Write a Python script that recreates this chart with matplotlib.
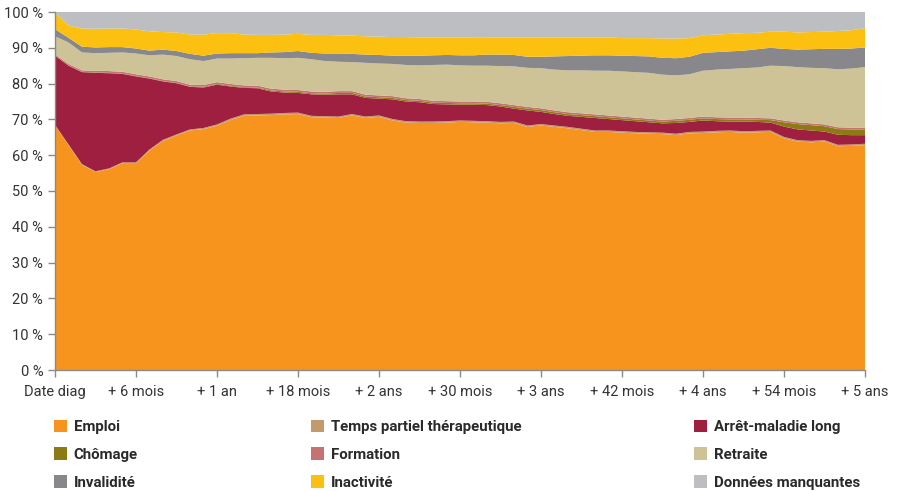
import matplotlib

matplotlib.use('Agg')
import matplotlib.pyplot as plt
from matplotlib.ticker import FuncFormatter

plt.rcParams['font.family'] = ['Roboto', 'DejaVu Sans']

months = list(range(61))
tick_months = [0, 6, 12, 18, 24, 30, 36, 42, 48, 54, 60]
tick_labels = ['Date diag', '+ 6 mois', '+ 1 an', '+ 18 mois', '+ 2 ans', '+ 30 mois',
               '+ 3 ans', '+ 42 mois', '+ 4 ans', '+ 54 mois', '+ 5 ans']

emploi = [68.5, 62.8, 57.3, 55.3, 56.1, 57.8, 57.8, 61.3, 64.0, 65.5, 66.9,
          67.3, 68.2, 69.8, 71.0, 71.1, 71.2, 71.4, 71.5, 70.6, 70.5,
          70.4, 71.1, 70.4, 70.7, 69.7, 69.1, 69.0, 69.0, 69.1, 69.3,
          69.2, 69.1, 68.9, 69.0, 67.9, 68.3, 67.9, 67.5, 67.0, 66.5,
          66.5, 66.3, 66.1, 66.0, 65.9, 65.6, 66.1, 66.2, 66.4, 66.5,
          66.3, 66.4, 66.5, 64.7, 63.8, 63.6, 63.8, 62.5, 62.6, 62.8]
temps_partiel = [0.0, 0.2, 0.2, 0.2, 0.2, 0.2, 0.2, 0.3, 0.3, 0.3, 0.3,
                 0.3, 0.4, 0.4, 0.4, 0.4, 0.4, 0.4, 0.4, 0.4, 0.4,
                 0.4, 0.4, 0.4, 0.4, 0.4, 0.4, 0.4, 0.4, 0.4, 0.4,
                 0.4, 0.4, 0.4, 0.4, 0.4, 0.4, 0.4, 0.4, 0.4, 0.4,
                 0.4, 0.4, 0.4, 0.4, 0.4, 0.4, 0.4, 0.4, 0.4, 0.4,
                 0.4, 0.4, 0.4, 0.4, 0.4, 0.4, 0.4, 0.4, 0.4, 0.4]
arret_maladie = [19.3, 22.0, 25.7, 27.5, 26.6, 24.7, 24.0, 19.8, 16.3, 14.3, 11.9,
                 11.3, 11.1, 9.0, 7.4, 7.2, 6.2, 5.7, 5.5, 6.0, 6.0,
                 6.2, 5.5, 5.2, 4.7, 5.5, 5.5, 5.4, 4.9, 4.7, 4.4,
                 4.5, 4.5, 4.3, 3.6, 4.2, 3.4, 3.2, 3.1, 3.3, 3.5,
                 3.2, 3.1, 3.0, 2.8, 2.6, 3.0, 2.8, 3.1, 2.7, 2.5,
                 2.7, 2.5, 2.2, 2.9, 3.0, 2.9, 2.4, 2.8, 2.6, 2.4]
chomage = [0.1, 0.1, 0.1, 0.1, 0.1, 0.1, 0.1, 0.1, 0.1, 0.1, 0.1,
           0.2, 0.2, 0.2, 0.2, 0.2, 0.3, 0.3, 0.3, 0.3, 0.3,
           0.4, 0.4, 0.4, 0.4, 0.4, 0.4, 0.4, 0.4, 0.4, 0.4,
           0.4, 0.4, 0.4, 0.5, 0.5, 0.5, 0.5, 0.5, 0.5, 0.5,
           0.5, 0.5, 0.5, 0.5, 0.5, 0.6, 0.6, 0.6, 0.6, 0.6,
           0.6, 0.6, 0.7, 1.2, 1.5, 1.5, 1.5, 1.6, 1.6, 1.6]
formation = [0.3, 0.4, 0.4, 0.5, 0.5, 0.5, 0.5, 0.5, 0.5, 0.5, 0.5,
             0.5, 0.5, 0.5, 0.5, 0.5, 0.5, 0.5, 0.5, 0.5, 0.5,
             0.5, 0.5, 0.5, 0.5, 0.5, 0.5, 0.5, 0.5, 0.5, 0.5,
             0.5, 0.5, 0.5, 0.5, 0.5, 0.5, 0.5, 0.5, 0.5, 0.5,
             0.5, 0.5, 0.5, 0.5, 0.5, 0.5, 0.5, 0.5, 0.5, 0.5,
             0.5, 0.5, 0.5, 0.5, 0.5, 0.5, 0.5, 0.5, 0.5, 0.5]
retraite = [5.0, 6.0, 5.0, 4.9, 5.1, 5.4, 5.8, 5.9, 6.9, 7.0, 7.1,
            6.7, 6.6, 7.1, 7.6, 7.8, 8.6, 8.8, 9.0, 9.0, 8.6,
            8.2, 8.1, 8.9, 8.9, 9.0, 9.3, 9.4, 10.0, 10.2, 10.1,
            10.0, 10.1, 10.4, 10.8, 10.9, 11.2, 11.4, 11.7, 12.0, 12.2,
            12.5, 12.6, 12.7, 12.8, 12.6, 12.2, 12.2, 12.8, 13.3, 13.6,
            13.8, 14.1, 14.7, 15.2, 15.4, 15.5, 15.7, 16.2, 16.5, 16.9]
invalidite = [2.0, 1.3, 1.6, 1.6, 1.6, 1.5, 1.4, 1.3, 1.4, 1.4, 1.5,
              1.5, 1.4, 1.5, 1.4, 1.3, 1.5, 1.7, 1.9, 1.8, 2.1,
              2.3, 2.3, 2.3, 2.4, 2.3, 2.6, 2.7, 2.7, 2.7, 2.8,
              2.9, 3.1, 3.2, 3.2, 3.1, 3.2, 3.7, 4.0, 4.1, 4.3,
              4.3, 4.4, 4.5, 4.6, 4.7, 4.8, 4.9, 5.0, 4.9, 4.9,
              4.9, 5.1, 5.0, 4.8, 4.9, 5.2, 5.4, 5.7, 5.6, 5.5]
inactivite = [4.6, 3.4, 5.1, 5.2, 5.2, 5.2, 5.3, 5.4, 4.9, 5.2, 5.4,
              5.9, 5.7, 5.6, 5.2, 5.1, 4.9, 4.9, 4.8, 5.0, 5.2,
              5.1, 5.1, 5.1, 5.1, 5.2, 5.2, 5.1, 5.0, 4.9, 5.0,
              4.9, 4.7, 4.8, 4.9, 5.4, 5.4, 5.3, 5.2, 5.1, 5.0,
              5.0, 4.9, 5.0, 5.1, 5.4, 5.5, 5.2, 4.9, 4.9, 4.9,
              4.9, 4.6, 4.5, 4.8, 4.8, 4.8, 4.8, 5.0, 5.1, 5.4]
manquantes = [0.2, 3.8, 4.6, 4.7, 4.6, 4.6, 4.9, 5.4, 5.6, 5.7, 6.3,
              6.3, 5.9, 5.9, 6.3, 6.4, 6.4, 6.3, 6.1, 6.4, 6.4,
              6.5, 6.6, 6.8, 6.9, 7.0, 7.0, 7.1, 7.1, 7.1, 7.1,
              7.2, 7.2, 7.1, 7.1, 7.1, 7.1, 7.1, 7.1, 7.1, 7.1,
              7.1, 7.3, 7.3, 7.3, 7.4, 7.4, 7.3, 6.5, 6.3, 6.1,
              5.9, 5.8, 5.5, 5.5, 5.7, 5.6, 5.5, 5.3, 5.1, 4.5]

series_names = ['Emploi', 'Temps partiel thérapeutique', 'Arrêt-maladie long',
                'Chômage', 'Formation', 'Retraite',
                'Invalidité', 'Inactivité', 'Données manquantes']
colors = ['#F7941D', '#C49A6C', '#9E1F3F',
          '#8C7B12', '#C47272', '#CDC396',
          '#87878C', '#FCC010', '#BCBEC1']

fig = plt.figure(figsize=(8.97, 4.91), dpi=100)
ax = fig.add_axes([55 / 897, 1 - 370 / 491, 810 / 897, 358 / 491])

polys = ax.stackplot(months, emploi, temps_partiel, arret_maladie, chomage, formation,
                     retraite, invalidite, inactivite, manquantes,
                     colors=colors, labels=series_names, linewidth=0)

ax.set_xlim(0, 60)
ax.set_ylim(0, 100)
ax.set_xticks(tick_months)
ax.set_xticklabels(tick_labels)
ax.set_yticks(range(0, 101, 10))
ax.yaxis.set_major_formatter(FuncFormatter(lambda v, p: f'{int(v)} %'))

for side in ('top', 'right'):
    ax.spines[side].set_visible(False)
for side in ('left', 'bottom'):
    ax.spines[side].set_color('#8a8a8a')
    ax.spines[side].set_linewidth(1.0)
ax.tick_params(axis='both', colors='#8a8a8a', length=5, width=1,
               labelcolor='#333333', labelsize=10.5)
ax.tick_params(axis='x', pad=6)

# legend: three columns placed by hand
col_x = [46 / 897, 303 / 897, 686 / 897]
for ci in range(3):
    handles = [polys[ci + 3 * r] for r in range(3)]
    labels = [series_names[ci + 3 * r] for r in range(3)]
    fig.legend(handles, labels, loc='upper left', bbox_to_anchor=(col_x[ci], 1 - 412 / 491),
               frameon=False, handlelength=0.9, handleheight=0.9, handletextpad=0.45,
               labelspacing=0.9, borderpad=0, prop={'size': 10.8, 'weight': 'bold'},
               labelcolor='#2a2a2a')

fig.savefig('out.png', dpi=100)
